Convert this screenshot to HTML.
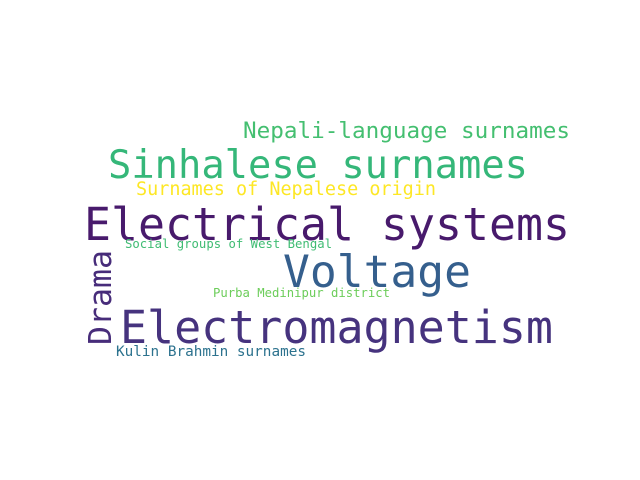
<!DOCTYPE html>
<html><head><meta charset="utf-8"><style>
html,body{margin:0;padding:0;background:#fff;width:640px;height:480px;overflow:hidden}
text{font-family:"DejaVu Sans Mono","Liberation Mono",monospace}
</style></head><body>
<svg width="640" height="480" xmlns="http://www.w3.org/2000/svg">
<rect width="640" height="480" fill="#fff"/>
<text x="243" y="138" font-size="22.6" fill="#44bf70" textLength="327" lengthAdjust="spacingAndGlyphs">Nepali-language surnames</text>
<text x="108" y="178" font-size="38.8" fill="#35b779" textLength="420" lengthAdjust="spacingAndGlyphs">Sinhalese surnames</text>
<text x="136" y="195" font-size="18.5" fill="#fde725" textLength="300" lengthAdjust="spacingAndGlyphs">Surnames of Nepalese origin</text>
<text x="84" y="240" font-size="45" fill="#481a6c" textLength="486" lengthAdjust="spacingAndGlyphs">Electrical systems</text>
<text x="125" y="248" font-size="12.3" fill="#3fbc73" textLength="207" lengthAdjust="spacingAndGlyphs">Social groups of West Bengal</text>
<text x="283" y="287" font-size="44.6" fill="#355f8d" textLength="188" lengthAdjust="spacingAndGlyphs">Voltage</text>
<text x="213" y="297" font-size="12.2" fill="#6ccd5a" textLength="177" lengthAdjust="spacingAndGlyphs">Purba Medinipur district</text>
<text x="120" y="343" font-size="45" fill="#46337e" textLength="433" lengthAdjust="spacingAndGlyphs">Electromagnetism</text>
<text x="116" y="356" font-size="14.3" fill="#2c728e" textLength="190" lengthAdjust="spacingAndGlyphs">Kulin Brahmin surnames</text>
<text transform="translate(111,345) rotate(-90)" x="0" y="0" font-size="31.5" fill="#472c7a" textLength="95" lengthAdjust="spacingAndGlyphs">Drama</text>
</svg>
</body></html>
